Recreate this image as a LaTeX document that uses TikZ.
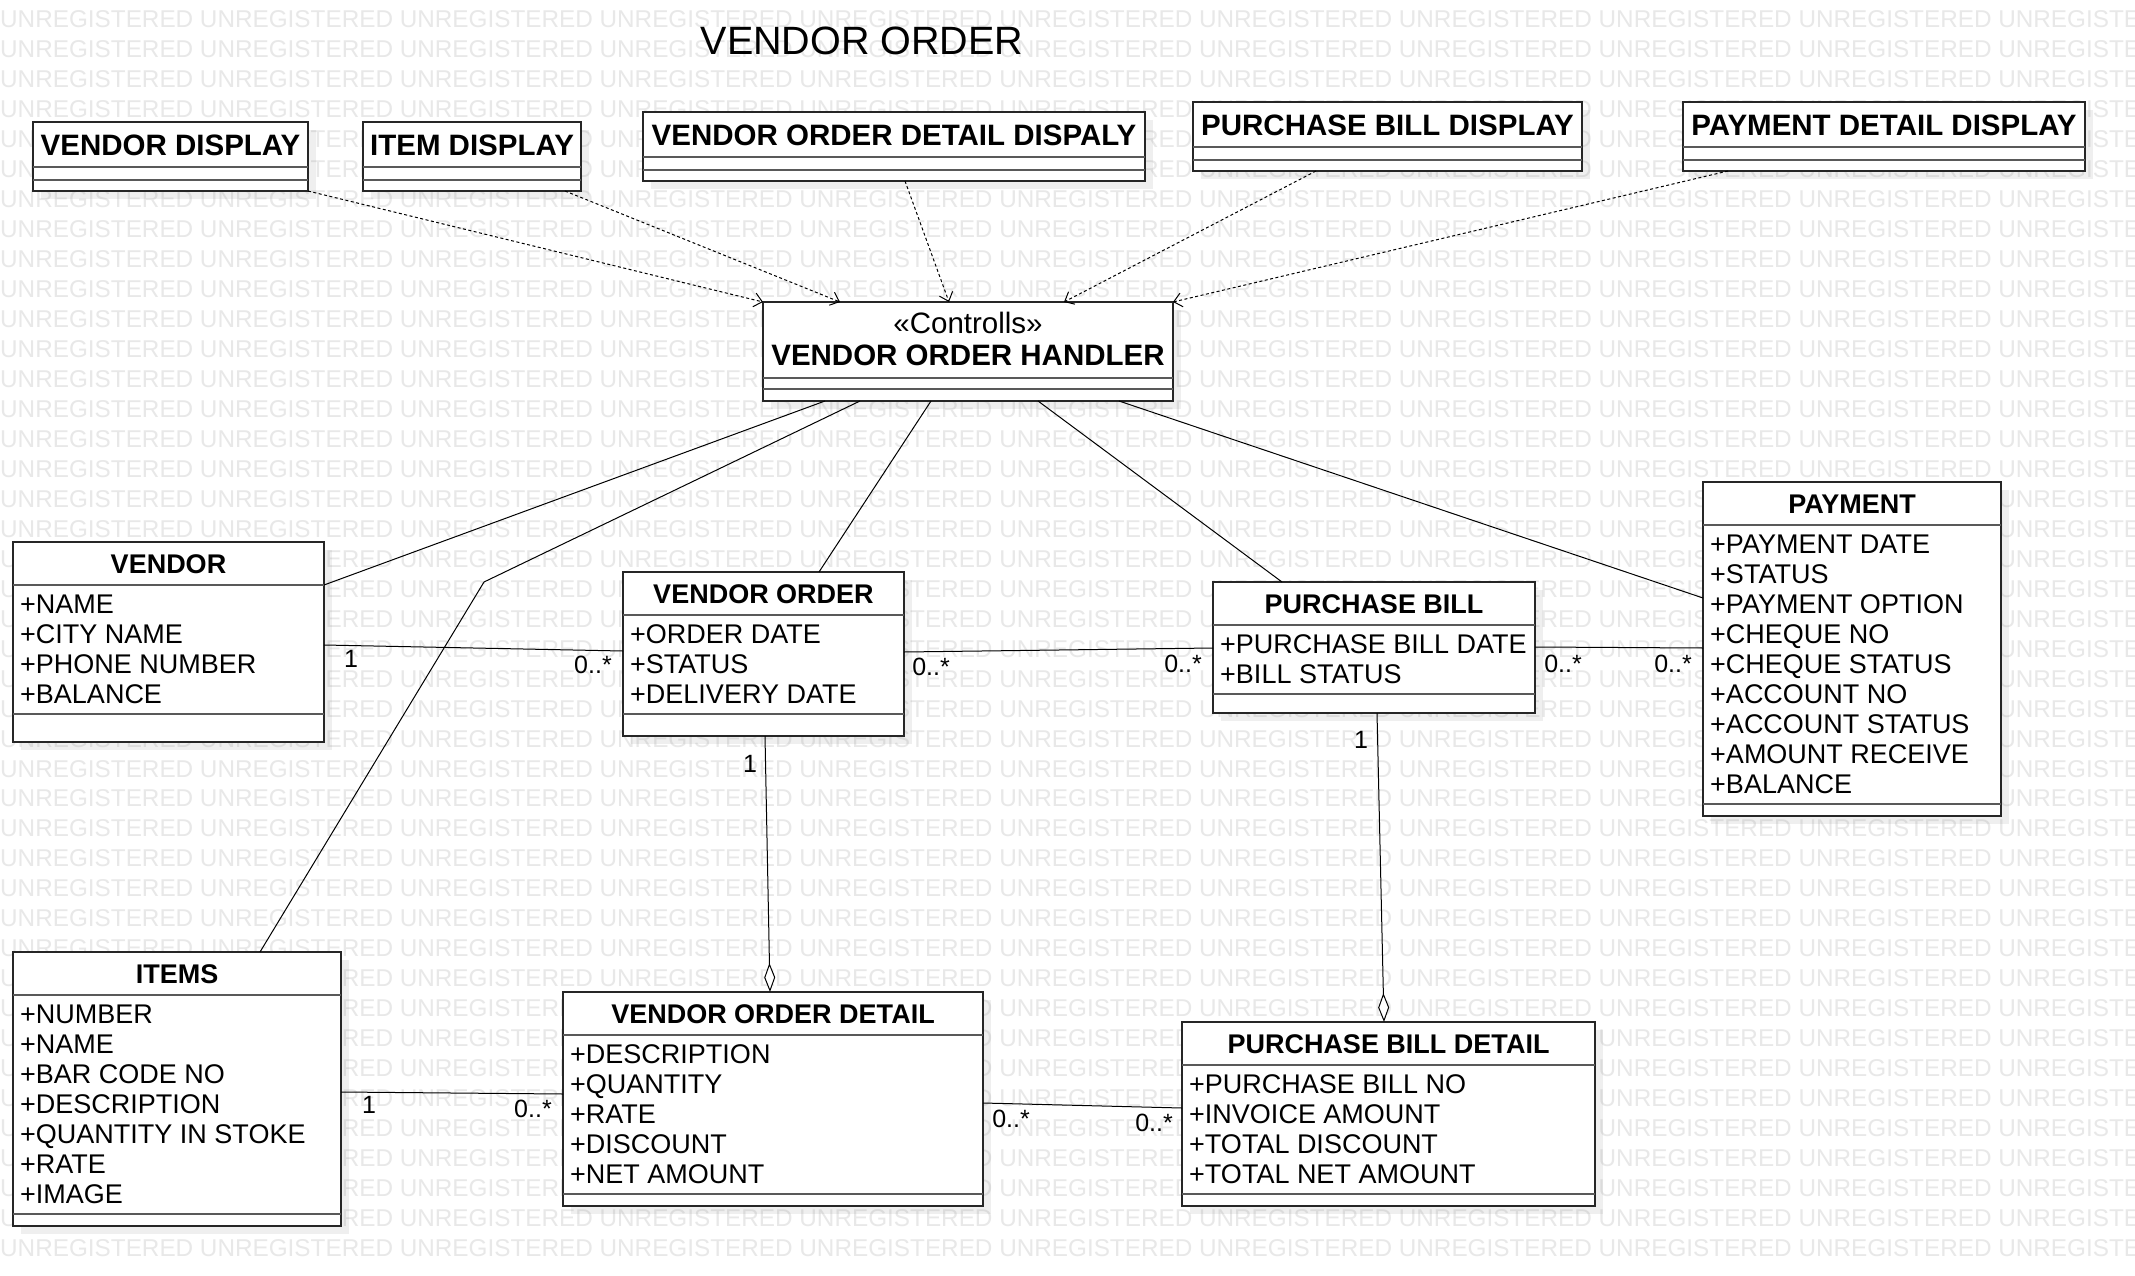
\documentclass[tikz,border=0pt]{standalone}
\usepackage{fontspec}
\setmainfont{Liberation Sans}
\usetikzlibrary{arrows.meta,shadows}

\tikzset{
  classbox/.style={draw=black!85, line width=1.6pt, fill=white, inner sep=0pt, outer sep=0pt, anchor=north west,
    drop shadow={shadow xshift=8pt, shadow yshift=-8pt, fill=black!50, opacity=.12}},
  divider/.style={draw=black!65, line width=2pt},
  cname/.style={font=\bfseries\fontsize{27}{30}\selectfont, anchor=base, inner sep=0pt},
  bigname/.style={font=\bfseries\fontsize{29.5}{32}\selectfont, anchor=base, inner sep=0pt},
  stereo/.style={font=\fontsize{29.5}{32}\selectfont, anchor=base, inner sep=0pt},
  attr/.style={font=\fontsize{27}{30}\selectfont, anchor=base west, inner sep=0pt},
  mult/.style={font=\fontsize{25}{28}\selectfont, anchor=base, inner sep=0pt},
  wmark/.style={font=\fontsize{24.3}{26}\selectfont, text=black!9, anchor=base west, inner sep=0pt},
  assoc/.style={draw=black, line width=1pt},
  dep/.style={draw=black, line width=1pt, dash pattern=on 3pt off 2.5pt, -{Straight Barb[length=8pt,width=14pt]}},
  aggr/.style={assoc, -{Diamond[fill=white,length=29pt,width=11pt]}},
}

\begin{document}
\begin{tikzpicture}[x=1pt, y=-1pt]

\useasboundingbox[fill=white] (0,0) rectangle (2135,1276);

\begin{scope}
\clip (0,0) rectangle (2135,1276);
\foreach \r in {0,...,41}
  \node[wmark] (wm\r) at (0, 28+29.96*\r) {UNREGISTERED UNREGISTERED UNREGISTERED UNREGISTERED UNREGISTERED UNREGISTERED UNREGISTERED UNREGISTERED UNREGISTERED UNREGISTERED UNREGISTERED};
\end{scope}

\node[font=\fontsize{39.5}{44}\selectfont, anchor=base] (title) at (862,55) {VENDOR ORDER};

% display classes
\node[classbox, minimum width=275pt, minimum height=69pt] (vdisp) at (33,122) {};
\node[classbox, minimum width=218pt, minimum height=69pt] (idisp) at (363,122) {};
\node[classbox, minimum width=502pt, minimum height=69pt] (voddisp) at (643,112) {};
\node[classbox, minimum width=389pt, minimum height=69pt] (pbdisp) at (1193,102) {};
\node[classbox, minimum width=402pt, minimum height=69pt] (pddisp) at (1683,102) {};

\foreach \n in {vdisp,idisp,voddisp,pbdisp,pddisp} {
  \draw[divider] ([yshift=-45pt]\n.north west) -- ([yshift=-45pt]\n.north east);
  \draw[divider] ([yshift=-58pt]\n.north west) -- ([yshift=-58pt]\n.north east);
}

\node[bigname] (vdisp-t) at ([yshift=-34pt]vdisp.north) {VENDOR DISPLAY};
\node[bigname] (idisp-t) at ([yshift=-34pt]idisp.north) {ITEM DISPLAY};
\node[bigname] (voddisp-t) at ([yshift=-34pt]voddisp.north) {VENDOR ORDER DETAIL DISPALY};
\node[bigname] (pbdisp-t) at ([yshift=-34pt]pbdisp.north) {PURCHASE BILL DISPLAY};
\node[bigname] (pddisp-t) at ([yshift=-34pt]pddisp.north) {PAYMENT DETAIL DISPLAY};

% controller
\node[classbox, minimum width=410pt, minimum height=99pt] (handler) at (763,302) {};
\draw[divider] ([yshift=-76pt]handler.north west) -- ([yshift=-76pt]handler.north east);
\draw[divider] ([yshift=-87pt]handler.north west) -- ([yshift=-87pt]handler.north east);
\node[stereo] (handler-s) at ([yshift=-31pt]handler.north) {«Controlls»};
\node[bigname] (handler-t) at ([yshift=-63pt]handler.north) {VENDOR ORDER HANDLER};

% entity classes
\node[classbox, minimum width=311pt, minimum height=200pt] (vendor) at (13,542) {};
\node[classbox, minimum width=281pt, minimum height=164pt] (vorder) at (623,572) {};
\node[classbox, minimum width=322pt, minimum height=131pt] (pbill) at (1213,582) {};
\node[classbox, minimum width=298pt, minimum height=334pt] (payment) at (1703,482) {};
\node[classbox, minimum width=328pt, minimum height=274pt] (items) at (13,952) {};
\node[classbox, minimum width=420pt, minimum height=214pt] (vodetail) at (563,992) {};
\node[classbox, minimum width=413pt, minimum height=184pt] (pbdetail) at (1182,1022) {};

\foreach \n/\d in {vendor/172,vorder/142,pbill/112,payment/322,items/262,vodetail/202,pbdetail/172} {
  \draw[divider] ([yshift=-43pt]\n.north west) -- ([yshift=-43pt]\n.north east);
  \draw[divider] ([yshift=-\d pt]\n.north west) -- ([yshift=-\d pt]\n.north east);
}

\node[cname] (vendor-t) at ([yshift=-31pt]vendor.north) {VENDOR};
\node[cname] (vorder-t) at ([yshift=-31pt]vorder.north) {VENDOR ORDER};
\node[cname] (pbill-t) at ([yshift=-31pt]pbill.north) {PURCHASE BILL};
\node[cname] (payment-t) at ([yshift=-31pt]payment.north) {PAYMENT};
\node[cname] (items-t) at ([yshift=-31pt]items.north) {ITEMS};
\node[cname] (vodetail-t) at ([yshift=-31pt]vodetail.north) {VENDOR ORDER DETAIL};
\node[cname] (pbdetail-t) at ([yshift=-31pt]pbdetail.north) {PURCHASE BILL DETAIL};

\foreach \a [count=\i] in {+NAME,+CITY NAME,+PHONE NUMBER,+BALANCE}
  \node[attr] (vendor-a\i) at ([xshift=7pt, yshift={-71pt-30pt*(\i-1)}]vendor.north west) {\a};
\foreach \a [count=\i] in {+ORDER DATE,+STATUS,+DELIVERY DATE}
  \node[attr] (vorder-a\i) at ([xshift=7pt, yshift={-71pt-30pt*(\i-1)}]vorder.north west) {\a};
\foreach \a [count=\i] in {+PURCHASE BILL DATE,+BILL STATUS}
  \node[attr] (pbill-a\i) at ([xshift=7pt, yshift={-71pt-30pt*(\i-1)}]pbill.north west) {\a};
\foreach \a [count=\i] in {+PAYMENT DATE,+STATUS,+PAYMENT OPTION,+CHEQUE NO,+CHEQUE STATUS,+ACCOUNT NO,+ACCOUNT STATUS,+AMOUNT RECEIVE,+BALANCE}
  \node[attr] (payment-a\i) at ([xshift=7pt, yshift={-71pt-30pt*(\i-1)}]payment.north west) {\a};
\foreach \a [count=\i] in {+NUMBER,+NAME,+BAR CODE NO,+DESCRIPTION,+QUANTITY IN STOKE,+RATE,+IMAGE}
  \node[attr] (items-a\i) at ([xshift=7pt, yshift={-71pt-30pt*(\i-1)}]items.north west) {\a};
\foreach \a [count=\i] in {+DESCRIPTION,+QUANTITY,+RATE,+DISCOUNT,+NET AMOUNT}
  \node[attr] (vodetail-a\i) at ([xshift=7pt, yshift={-71pt-30pt*(\i-1)}]vodetail.north west) {\a};
\foreach \a [count=\i] in {+PURCHASE BILL NO,+INVOICE AMOUNT,+TOTAL DISCOUNT,+TOTAL NET AMOUNT}
  \node[attr] (pbdetail-a\i) at ([xshift=7pt, yshift={-71pt-30pt*(\i-1)}]pbdetail.north west) {\a};

% dependencies
\draw[dep] (vdisp.south east) -- (handler.north west);
\draw[dep] ([xshift=-16pt]idisp.south east) -- ([xshift=77pt]handler.north west);
\draw[dep] ([xshift=11pt]voddisp.south) -- ([xshift=186pt]handler.north west);
\draw[dep] ([xshift=123pt]pbdisp.south west) -- ([xshift=301pt]handler.north west);
\draw[dep] ([xshift=45pt]pddisp.south west) -- (handler.north east);

% associations
\coordinate (bend) at (484,582);
\draw[assoc] ([xshift=62pt]handler.south west) -- ([yshift=-43pt]vendor.north east);
\draw[assoc] ([xshift=97pt]handler.south west) -- (bend) -- ([xshift=247pt]items.north west);
\draw[assoc] ([xshift=168pt]handler.south west) -- ([xshift=196pt]vorder.north west);
\draw[assoc] ([xshift=275pt]handler.south west) -- ([xshift=69pt]pbill.north west);
\draw[assoc] ([xshift=356pt]handler.south west) -- ([yshift=-116pt]payment.north west);

\draw[assoc] ([yshift=-103pt]vendor.north east) -- ([yshift=-79pt]vorder.north west);
\draw[assoc] ([yshift=-80pt]vorder.north east) -- ([yshift=-66pt]pbill.north west);
\draw[assoc] ([yshift=-65pt]pbill.north east) -- ([yshift=-166pt]payment.north west);
\draw[assoc] ([yshift=-140pt]items.north east) -- ([yshift=-102pt]vodetail.north west);
\draw[assoc] ([yshift=-111pt]vodetail.north east) -- ([yshift=-86pt]pbdetail.north west);

\draw[aggr] ([xshift=142pt]vorder.south west) -- ([xshift=207pt]vodetail.north west);
\draw[aggr] ([xshift=164pt]pbill.south west) -- ([xshift=202pt]pbdetail.north west);

% multiplicities
\node[mult] (m1) at (351,667) {1};
\node[mult] (m2) at (593,673) {0..*};
\node[mult] (m3) at (931,675) {0..*};
\node[mult] (m4) at (1183,672) {0..*};
\node[mult] (m5) at (1563,672) {0..*};
\node[mult] (m6) at (1673,672) {0..*};
\node[mult] (m7) at (750,772) {1};
\node[mult] (m8) at (1361,748) {1};
\node[mult] (m9) at (369,1113) {1};
\node[mult] (m10) at (533,1117) {0..*};
\node[mult] (m11) at (1011,1127) {0..*};
\node[mult] (m12) at (1154,1131) {0..*};

\end{tikzpicture}
\end{document}
